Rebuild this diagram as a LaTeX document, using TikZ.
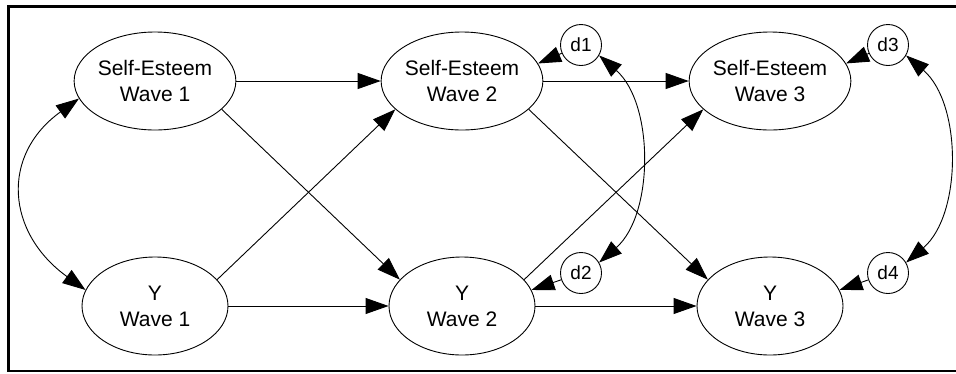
\documentclass[tikz,border=0pt]{standalone}
\usepackage{fontspec}
\setmainfont{Liberation Sans}
\usetikzlibrary{shapes.geometric,arrows.meta}
\begin{document}
\begin{tikzpicture}[x=1pt,y=-1pt,
  latent/.style={ellipse,draw,line width=0.9pt,minimum width=146pt,minimum height=98pt,inner sep=0pt,align=center,font=\fontsize{21}{26}\selectfont},
  dist/.style={circle,draw,line width=0.9pt,minimum size=41pt,inner sep=0pt,font=\fontsize{19}{22}\selectfont},
  reg/.style={line width=0.9pt,-{Triangle[length=23pt,width=16pt]}},
  cov/.style={line width=0.9pt,{Triangle[length=23pt,width=16pt]}-{Triangle[length=23pt,width=16pt]}}]
\useasboundingbox (0,0) rectangle (956,373);
\draw[line width=2.7pt] (956,6.7) -- (8.7,6.7) -- (8.7,371) -- (956,371);
\node[latent] (se1) at (155,81) {Self-Esteem\\Wave 1};
\node[latent] (se2) at (462,81) {Self-Esteem\\Wave 2};
\node[latent] (se3) at (770,81) {Self-Esteem\\Wave 3};
\node[latent] (y1) at (155,306) {Y\\Wave 1};
\node[latent] (y2) at (462,306) {Y\\Wave 2};
\node[latent] (y3) at (770,306) {Y\\Wave 3};
\node[dist] (d1) at (581,45) {d1};
\node[dist] (d2) at (581,273) {d2};
\node[dist] (d3) at (888,45) {d3};
\node[dist] (d4) at (888,273) {d4};
\draw[reg] (se1) -- (se2);
\draw[reg] (y1) -- (y2);
\draw[reg] (se2) -- (se3);
\draw[reg] (y2) -- (y3);
\draw[reg] (se1.-23) -- (y2.157);
\draw[reg] (y1.23) -- (se2.-157);
\draw[reg] (se2.-23) -- (y3.157);
\draw[reg] (y2.23) -- (se3.-157);
\draw[reg] (d1) -- (se2.13);
\draw[reg] (d3) -- (se3.13);
\draw[reg] (d2) -- (y2.13);
\draw[reg] (d4) -- (y3.13);
\draw[cov] (se1.193) .. controls +(-79,57) and +(-79,-57) .. (y1.167);
\draw[cov] (d1.-30) .. controls +(55,48) and +(55,-48) .. (d2.30);
\draw[cov] (d3.-30) .. controls +(56,48) and +(56,-48) .. (d4.30);
\end{tikzpicture}
\end{document}
